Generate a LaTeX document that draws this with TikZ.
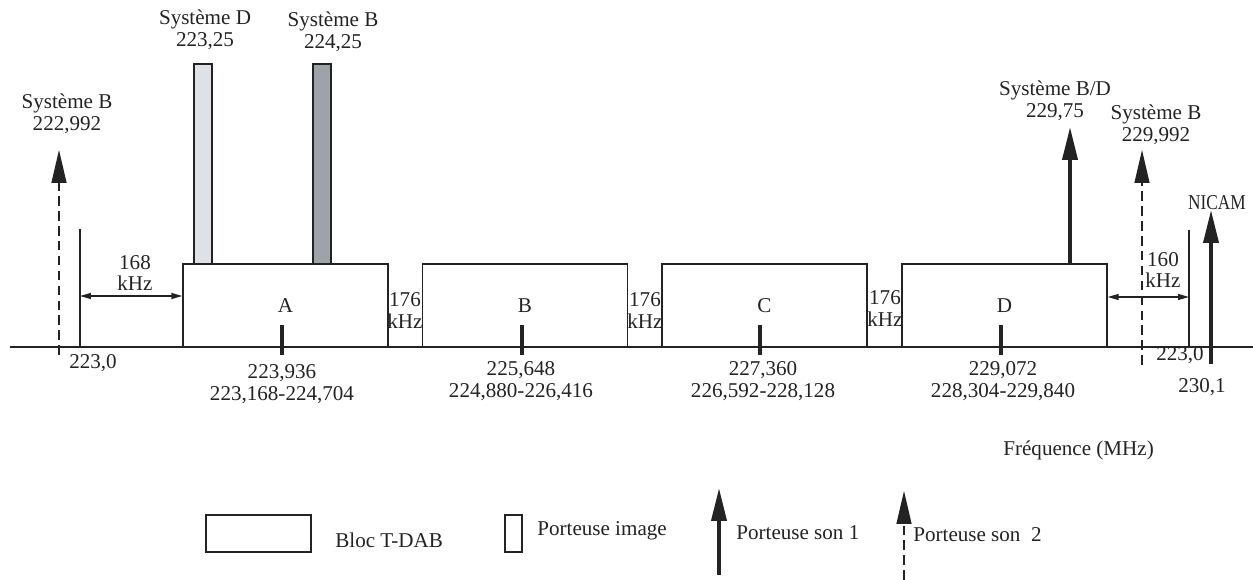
\documentclass[tikz,border=0pt]{standalone}
\usepackage{fontspec}
\setmainfont{Liberation Serif}
\usetikzlibrary{arrows.meta,positioning}
\definecolor{ink}{RGB}{35,35,35}
\definecolor{imgD}{RGB}{222,226,230}
\definecolor{imgB}{RGB}{158,163,170}

\begin{document}
\begin{tikzpicture}[x=0.02cm, y=-0.02cm,
    txt/.style={font=\fontsize{12}{12.5}\selectfont, text=ink, inner sep=0pt, align=center},
    bloc/.style={draw=ink, line width=0.8pt, fill=white, minimum width=4.1cm, minimum height=1.66cm, inner sep=0pt, font=\fontsize{12}{12.5}\selectfont, text=ink},
    carrier/.style={draw=ink, line width=0.8pt, fill=#1},
    tick/.style={ink, line width=2.2pt},
    son/.style={-{Triangle[length=0.66cm, width=0.3cm]}, line width=2.2pt, ink},
    sondash/.style={-{Triangle[length=0.66cm, width=0.3cm]}, line width=0.8pt, ink, dash pattern=on 5.5pt off 3pt},
    dim/.style={{Triangle[length=2.2mm, width=1.2mm]}-{Triangle[length=2.2mm, width=1.2mm]}, line width=0.8pt, ink},
    thin/.style={ink, line width=0.8pt},
]
\useasboundingbox (0,0) rectangle (1253,580);

% Axe des fréquences
\draw[thin] (10,347) coordinate (axL) -- (1253,347) coordinate (axR);

% Blocs T-DAB
\node[bloc] (blocA) at (285.5,305.5) {A};
\node[bloc] (blocB) at (525,305.5) {B};
\node[bloc] (blocC) at (764.5,305.5) {C};
\node[bloc] (blocD) at (1004.5,305.5) {D};

\draw[tick] (282,325) -- (282,355);
\draw[tick] (522,325) -- (522,355);
\draw[tick] (760,325) -- (760,355);
\draw[tick] (1001,325) -- (1001,355);

\node[txt] (fA) at (282,384) {223,936\\223,168-224,704};
\node[txt] (fB) at (521,381) {225,648\\224,880-226,416};
\node[txt] (fC) at (763,381) {227,360\\226,592-228,128};
\node[txt] (fD) at (1003,381) {229,072\\228,304-229,840};

% Espacements entre blocs
\node[txt] (gAB) at (405,311) {176\\kHz};
\node[txt] (gBC) at (645,311) {176\\kHz};
\node[txt] (gCD) at (885,309) {176\\kHz};

% Porteuses image
\draw[carrier=imgD] (194,64) rectangle (212,264);
\draw[carrier=imgB] (313,64) rectangle (331,264);
\node[txt] (sysD) at (205,30) {Système D\\223,25};
\node[txt] (sysB) at (333,32) {Système B\\224,25};

% Côté gauche
\draw[sondash] (59,355) -- (59,150);
\node[txt] (sysBl) at (67,114) {Système B\\222,992};
\draw[thin] (80,229) coordinate (limL) -- (80,347);
\node[txt] (f223l) at (93,363) {223,0};
\draw[dim] (limL |- 0,296) -- (blocA.west |- 0,296);
\node[txt] (d168) at (135,273) {168\\kHz};

% Côté droit
\draw[son] (blocD.north -| 1070,0) -- (1070,127);
\node[txt] (sysBD) at (1055,101) {Système B/D\\229,75};
\draw[sondash] (1142,365) -- (1142,150);
\node[txt] (sysBr) at (1156,125) {Système B\\229,992};
\draw[thin] (1189,230) coordinate (limR) -- (1189,347);
\draw[dim] (blocD.east |- 0,297) -- (limR |- 0,297);
\node[txt] (d160) at (1163,270) {160\\kHz};
\node[txt] (f223r) at (1180,355) {223,0};
\draw[son] (1211,364) -- (1211,210);
\node[txt] (nicam) at (1217,203) {\scalebox{0.82}[1]{NICAM}};
\node[txt] (f230) at (1202,387) {230,1};

\node[txt, anchor=west] (freq) at (1003,450) {Fréquence (MHz)};

% Légende
\draw[thin] (206,515) rectangle (311,552);
\node[txt, anchor=west] (legBloc) at (335,540) {Bloc T-DAB};
\draw[thin] (505,515) rectangle (522,552);
\node[txt, anchor=west] (legImg) at (537,531) {Porteuse image};
\draw[son] (719,575) -- (719,488);
\node[txt, anchor=west] (legSon1) at (736,533) {Porteuse son 1};
\draw[sondash] (904,580) -- (904,491);
\node[txt, anchor=west] (legSon2) at (913,535) {Porteuse son\ \ 2};
\end{tikzpicture}
\end{document}
